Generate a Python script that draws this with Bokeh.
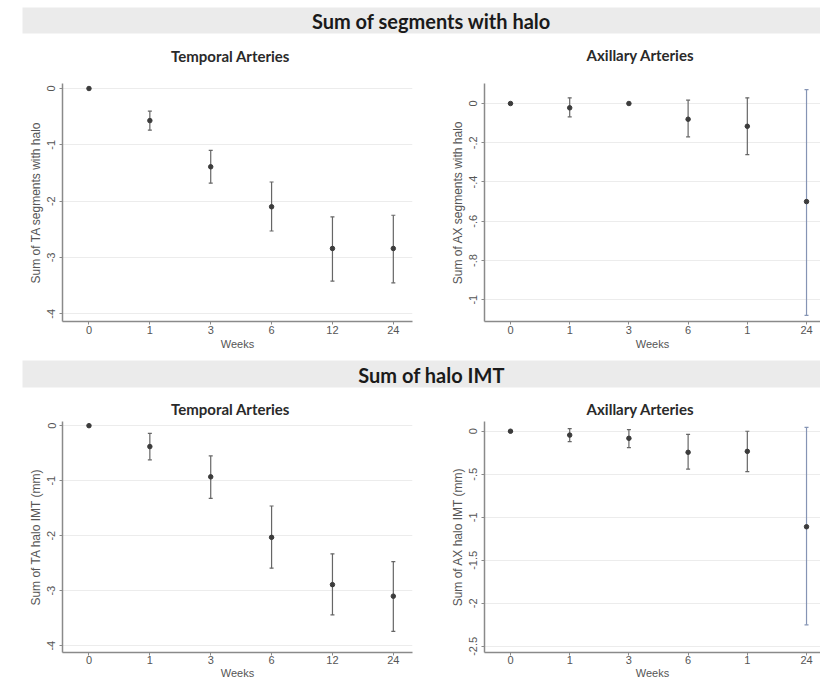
from bokeh.plotting import figure
from bokeh.models import ColumnDataSource, FixedTicker, Range1d
from bokeh.layouts import column, row
from bokeh.core.properties import value
from bokeh.embed import file_html
from bokeh.resources import INLINE

# ---------------- data ----------------
weeks = ["0", "1", "3", "6", "12", "24"]
ax_week_labels = ["0", "1", "3", "6", "1", "24"]

# Sum of segments with halo - Temporal arteries
ta_seg_mean = [0.0, -0.57, -1.39, -2.10, -2.84, -2.84]
ta_seg_lo = [0.0, -0.74, -1.68, -2.53, -3.42, -3.45]
ta_seg_hi = [0.0, -0.40, -1.10, -1.66, -2.28, -2.25]

# Sum of segments with halo - Axillary arteries
ax_seg_mean = [0.0, -0.022, 0.0, -0.080, -0.116, -0.50]
ax_seg_lo = [0.0, -0.068, 0.0, -0.170, -0.260, -1.08]
ax_seg_hi = [0.0, 0.029, 0.0, 0.017, 0.029, 0.071]

# Sum of halo IMT - Temporal arteries
ta_imt_mean = [0.0, -0.38, -0.93, -2.03, -2.89, -3.10]
ta_imt_lo = [0.0, -0.62, -1.32, -2.59, -3.44, -3.74]
ta_imt_hi = [0.0, -0.14, -0.55, -1.46, -2.33, -2.47]

# Sum of halo IMT - Axillary arteries
ax_imt_mean = [0.0, -0.045, -0.082, -0.245, -0.234, -1.11]
ax_imt_lo = [0.0, -0.12, -0.19, -0.44, -0.47, -2.25]
ax_imt_hi = [0.0, 0.03, 0.019, -0.037, 0.0, 0.045]

ta_ticks = [0, -1, -2, -3, -4]
ta_tick_labels = ["0", "-1", "-2", "-3", "-4"]
ax_seg_ticks = [0, -0.2, -0.4, -0.6, -0.8, -1]
ax_seg_tick_labels = ["0", "-.2", "-.4", "-.6", "-.8", "-1"]
ax_imt_ticks = [0, -0.5, -1, -1.5, -2, -2.5]
ax_imt_tick_labels = ["0", "-.5", "-1", "-1.5", "-2", "-2.5"]

section_titles = ["Sum of segments with halo", "Sum of halo IMT"]
panel_titles = ["Temporal Arteries", "Axillary Arteries"]

# ---------------- styles ----------------
FONT = "Liberation Sans"
TITLE_FONT = "Lato"
AXIS_COL = "#8a8a8a"
TXT_COL = "#555555"
BAR_COL = "#666666"
BLUE_COL = "#8594b4"
PT_COL = "#3c3c3c"
TOTAL_W = 820


def header(title, height, band_top, band_bottom, text_y, sub_y):
    """Gray section band plus the two panel sub-titles (pixel layout)."""
    p = figure(width=TOTAL_W, height=height, x_range=Range1d(0, TOTAL_W),
               y_range=Range1d(height, 0), output_backend="svg",
               toolbar_location=None, x_axis_type=None, y_axis_type=None,
               min_border=0)
    p.outline_line_color = None
    p.quad(left=[22], right=[TOTAL_W], top=[band_top], bottom=[band_bottom],
           fill_color="#ebebeb", line_color=None)
    p.text(x=[431], y=[text_y], text=[title], text_font=value(TITLE_FONT),
           text_font_style="bold", text_font_size="20px", text_color="#1a1a1a",
           text_align="center", text_baseline="middle")
    p.text(x=[230, 640], y=sub_y, text=panel_titles, text_font=value(TITLE_FONT),
           text_font_style="bold", text_font_size="15px", text_color="#2a2a2a",
           text_align="center", text_baseline="middle")
    return p


def panel(ylabel, xlabels, mean, lo, hi, yr, ticks, tick_labels,
          width, height, bl, br, bt, bb, xr, blue_last, xl_standoff, xa_standoff):
    p = figure(width=width, height=height, output_backend="svg", title=None,
               toolbar_location=None, x_range=Range1d(*xr), y_range=Range1d(*yr),
               min_border_left=bl, min_border_right=br, min_border_top=bt,
               min_border_bottom=bb)
    p.outline_line_color = None
    p.xgrid.visible = False
    p.ygrid.grid_line_color = "#ececec"
    p.ygrid.grid_line_width = 1

    xs = list(range(len(xlabels)))
    colors = [BLUE_COL if (blue_last and i == len(xs) - 1) else BAR_COL for i in xs]
    src = ColumnDataSource(dict(x=xs, mean=mean, lo=lo, hi=hi, color=colors))
    p.segment(x0="x", y0="lo", x1="x", y1="hi", line_color="color",
              line_width=1.2, source=src)
    p.scatter(x="x", y="hi", marker="dash", size=4, line_color="color",
              line_width=1.2, source=src)
    p.scatter(x="x", y="lo", marker="dash", size=4, line_color="color",
              line_width=1.2, source=src)
    p.scatter(x="x", y="mean", size=4.5, color=PT_COL, source=src)

    p.xaxis.ticker = FixedTicker(ticks=xs)
    p.xaxis.major_label_overrides = {float(i): lab for i, lab in zip(xs, xlabels)}
    p.yaxis.ticker = FixedTicker(ticks=ticks)
    p.yaxis.major_label_overrides = {float(t): lab for t, lab in zip(ticks, tick_labels)}
    p.yaxis.major_label_orientation = "vertical"
    p.xaxis.axis_label = "Weeks"
    p.yaxis.axis_label = ylabel

    for ax in (p.xaxis[0], p.yaxis[0]):
        ax.axis_line_color = AXIS_COL
        ax.axis_line_width = 1.5
        ax.major_tick_line_color = AXIS_COL
        ax.major_tick_in = 0
        ax.major_tick_out = 3
        ax.minor_tick_line_color = None
        ax.major_label_text_font = FONT
        ax.major_label_text_font_size = "11px"
        ax.major_label_text_color = TXT_COL
        ax.axis_label_text_font = FONT
        ax.axis_label_text_font_style = "normal"
        ax.axis_label_text_font_size = "11px"
        ax.axis_label_text_color = TXT_COL
    p.yaxis.axis_label_text_font_size = "12px"
    p.yaxis.major_label_standoff = 4
    p.yaxis.axis_label_standoff = 2
    p.xaxis.major_label_standoff = xl_standoff
    p.xaxis.axis_label_standoff = xa_standoff
    return p


XR_L = (-0.435, 5.315)
XR_R = (-0.439, 5.236)

h1 = header(section_titles[0], 72, 7, 33, 20.5, [55, 54])
p1 = panel("Sum of TA segments with halo", weeks,
           ta_seg_mean, ta_seg_lo, ta_seg_hi, (-4.137, 0.089),
           ta_ticks, ta_tick_labels, 420, 285, 62, 8, 11, 36, XR_L, False, 1, 1)
p2 = panel("Sum of AX segments with halo", ax_week_labels,
           ax_seg_mean, ax_seg_lo, ax_seg_hi, (-1.111, 0.102),
           ax_seg_ticks, ax_seg_tick_labels, 400, 285, 64, 0, 11, 36, XR_R, True, 1, 1)
h2 = header(section_titles[1], 62, 3, 30, 17.5, [51, 51])
p3 = panel("Sum of TA halo IMT (mm)", weeks,
           ta_imt_mean, ta_imt_lo, ta_imt_hi, (-4.124, 0.076),
           ta_ticks, ta_tick_labels, 420, 262, 62, 8, 2, 26, XR_L, False, 0, 0)
p4 = panel("Sum of AX halo IMT (mm)", ax_week_labels,
           ax_imt_mean, ax_imt_lo, ax_imt_hi, (-2.571, 0.113),
           ax_imt_ticks, ax_imt_tick_labels, 400, 262, 64, 0, 2, 26, XR_R, True, 0, 0)

layout = column(h1, row(p1, p2, spacing=0), h2, row(p3, p4, spacing=0), spacing=0)

open("out.html", "w").write(file_html(layout, INLINE))
